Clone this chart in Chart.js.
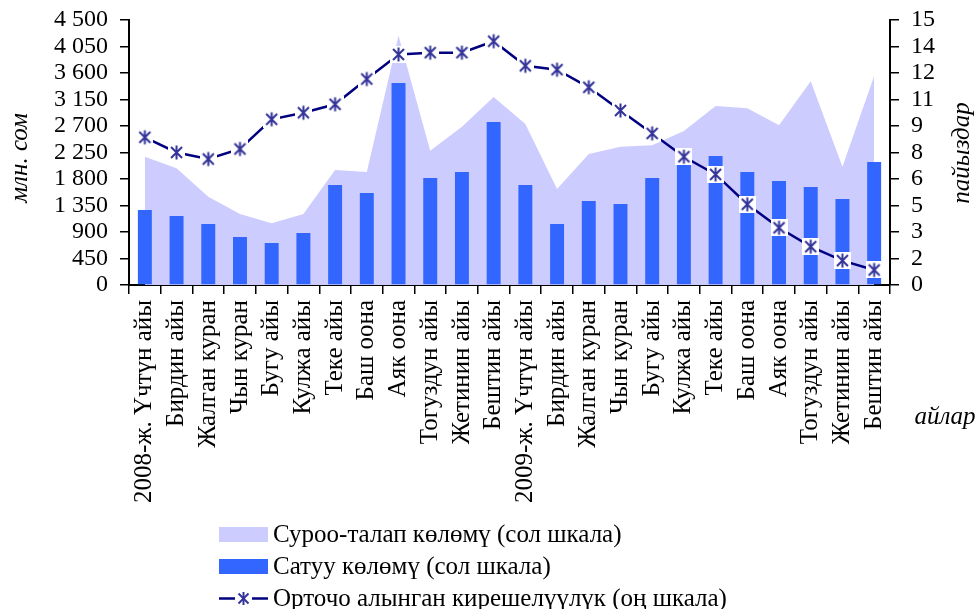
<!DOCTYPE html>
<html>
<head>
<meta charset="utf-8">
<script src="https://cdn.jsdelivr.net/npm/chart.js@4"></script>
<style>
  body { margin: 0; background: #fff; }
  #wrap { position: relative; width: 979px; height: 609px; }
  #legend { position: absolute; left: 219px; top: 518px; font-family: "Liberation Serif", serif; font-size: 25px; color: #000; }
  .row { display: flex; align-items: center; height: 32px; }
  .sw { width: 49px; height: 15px; margin-right: 5px; }
</style>
</head>
<body>
<div id="wrap">
  <canvas id="chart" width="979" height="609"></canvas>
  <div id="legend">
    <div class="row"><span class="sw" style="background:#CCCCFF"></span>Суроо-талап көлөмү (сол шкала)</div>
    <div class="row"><span class="sw" style="background:#3366FF"></span>Сатуу көлөмү (сол шкала)</div>
    <div class="row"><svg class="sw" width="49" height="15" viewBox="0 0 49 15">
      <line x1="0" y1="7.5" x2="49" y2="7.5" stroke="#000080" stroke-width="2.5"/>
      <rect x="16" y="0" width="17" height="15" fill="#fff"/>
      <line x1="19.5" y1="2.5" x2="29.5" y2="12.5" stroke="#333399" stroke-width="2"/>
      <line x1="29.5" y1="2.5" x2="19.5" y2="12.5" stroke="#333399" stroke-width="2"/>
      <line x1="24.5" y1="1" x2="24.5" y2="14" stroke="#333399" stroke-width="2"/>
    </svg>Орточо алынган кирешелүүлүк (оң шкала)</div>
  </div>
</div>
<script>
const months = ['Үчтүн айы', 'Бирдин айы', 'Жалган куран', 'Чын куран', 'Бугу айы', 'Кулжа айы',
    'Теке айы', 'Баш оона', 'Аяк оона', 'Тогуздун айы', 'Жетинин айы', 'Бештин айы'];
const categories = ['2008-ж. Үчтүн айы'].concat(months.slice(1), ['2009-ж. Үчтүн айы'], months.slice(1));

// сол шкала, млн. сом
const demand = [2179, 1981, 1500, 1206, 1048, 1206, 1953, 1919, 4233, 2281, 2688, 3192,
    2734, 1630, 2224, 2348, 2372, 2615, 3040, 3000, 2711, 3459, 2009, 3549];
const sales = [1274, 1172, 1036, 815, 713, 883, 1698, 1562, 3430, 1817, 1919, 2768,
    1698, 1036, 1426, 1375, 1817, 2050, 2190, 1919, 1766, 1664, 1460, 2088];
// оң шкала, пайыздар
const yieldRate = [8.36, 7.5, 7.13, 7.7, 9.38, 9.75, 10.23, 11.66, 13.05, 13.15, 13.15, 13.8,
    12.41, 12.19, 11.19, 9.88, 8.58, 7.26, 6.26, 4.57, 3.24, 2.17, 1.38, 0.85];

const leftTicks = ['0', '450', '900', '1 350', '1 800', '2 250', '2 700', '3 150', '3 600', '4 050', '4 500'];
const rightTicks = ['0', '2', '3', '5', '6', '8', '9', '11', '12', '14', '15'];

const FONT = '"Liberation Serif", "Times New Roman", serif';

// star marker with white box
const marker = document.createElement('canvas');
marker.width = 17;
marker.height = 17;
(function () {
    const m = marker.getContext('2d');
    m.fillStyle = '#fff';
    m.fillRect(0, 0, 17, 17);
    m.strokeStyle = '#333399';
    m.lineWidth = 2;
    m.beginPath();
    m.moveTo(3, 3); m.lineTo(14, 14);
    m.moveTo(14, 3); m.lineTo(3, 14);
    m.moveTo(8.5, 1.5); m.lineTo(8.5, 15.5);
    m.stroke();
})();

const titles = {
    id: 'titles',
    afterDraw(chart) {
        const c = chart.ctx;
        c.save();
        c.fillStyle = '#000';
        c.font = 'italic 25px ' + FONT;
        c.textAlign = 'center';
        c.textBaseline = 'middle';
        c.save();
        c.translate(20, 158);
        c.rotate(-Math.PI / 2);
        c.fillText('млн. сом', 0, 0);
        c.restore();
        c.save();
        c.translate(962, 153);
        c.rotate(-Math.PI / 2);
        c.fillText('пайыздар', 0, 0);
        c.restore();
        c.fillText('айлар', 945, 417);
        c.restore();
    }
};

const fitY = w => s => { s.width = w; s.paddingTop = 0; s.paddingBottom = 0; };

new Chart(document.getElementById('chart'), {
    data: {
        labels: categories,
        datasets: [{
            type: 'line',
            label: 'Орточо алынган кирешелүүлүк (оң шкала)',
            data: yieldRate,
            yAxisID: 'y1',
            borderColor: '#000080',
            borderWidth: 2.5,
            pointStyle: marker,
            pointRadius: 8,
            tension: 0,
            fill: false,
            order: 0
        }, {
            type: 'bar',
            label: 'Сатуу көлөмү (сол шкала)',
            data: sales,
            yAxisID: 'y',
            backgroundColor: '#3366FF',
            barPercentage: 0.44,
            categoryPercentage: 1,
            order: 1
        }, {
            type: 'line',
            label: 'Суроо-талап көлөмү (сол шкала)',
            data: demand,
            yAxisID: 'y',
            backgroundColor: '#CCCCFF',
            borderWidth: 0,
            pointRadius: 0,
            fill: 'origin',
            tension: 0,
            order: 2
        }]
    },
    options: {
        responsive: false,
        animation: false,
        layout: { padding: { top: 20, left: 0, right: 0, bottom: 0 } },
        plugins: { legend: { display: false }, tooltip: { enabled: false } },
        scales: {
            x: {
                offset: true,
                grid: { drawOnChartArea: false, offset: true, color: '#000', tickLength: 9, lineWidth: 1.5 },
                border: { color: '#000', width: 2 },
                ticks: { color: '#000', font: { family: FONT, size: 25 }, maxRotation: 90, minRotation: 90, autoSkip: false, padding: 6 },
                afterFit: s => { s.height = 324; s.paddingLeft = 0; s.paddingRight = 0; }
            },
            y: {
                position: 'left',
                min: 0, max: 4500,
                afterBuildTicks: s => { s.ticks = leftTicks.map((t, i) => ({ value: i * 450 })); },
                grid: { drawOnChartArea: false, color: '#000', tickLength: 9, lineWidth: 1.5 },
                border: { color: '#000', width: 2 },
                ticks: { color: '#000', font: { family: FONT, size: 24 }, padding: 12, autoSkip: false, callback: (v, i) => leftTicks[i] },
                afterFit: fitY(129)
            },
            y1: {
                position: 'right',
                min: 0, max: 15,
                afterBuildTicks: s => { s.ticks = rightTicks.map((t, i) => ({ value: i * 1.5 })); },
                grid: { drawOnChartArea: false, color: '#000', tickLength: 9, lineWidth: 1.5 },
                border: { color: '#000', width: 2 },
                ticks: { color: '#000', font: { family: FONT, size: 24 }, padding: 12, autoSkip: false, callback: (v, i) => rightTicks[i] },
                afterFit: fitY(89)
            }
        }
    },
    plugins: [titles]
});
</script>
</body>
</html>
